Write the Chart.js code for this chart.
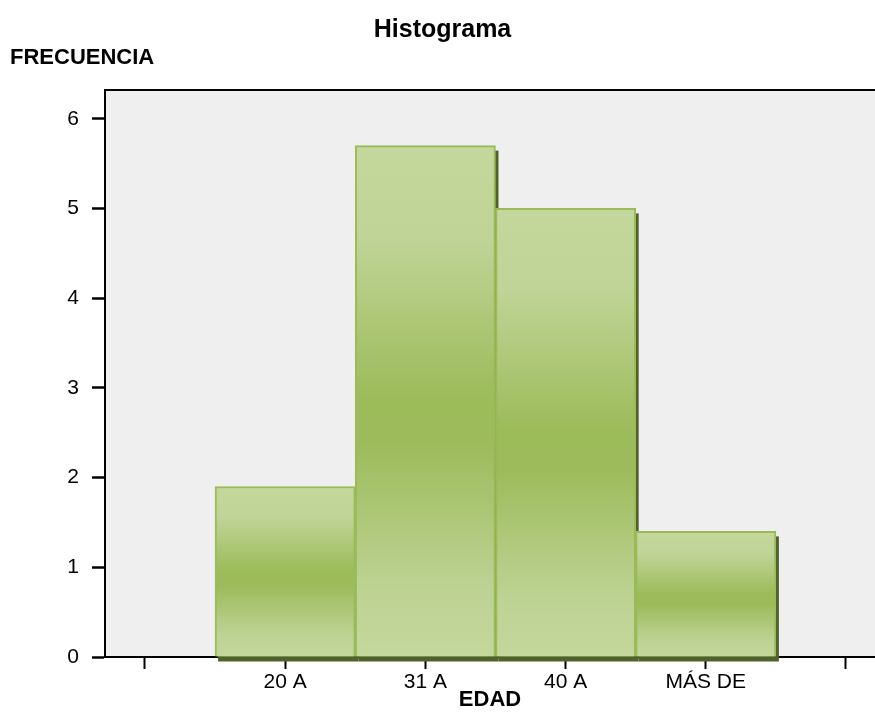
<!DOCTYPE html>
<html>
<head>
<meta charset="utf-8">
<script src="https://cdn.jsdelivr.net/npm/chart.js@4/dist/chart.umd.min.js"></script>
<style>
  html, body { margin: 0; padding: 0; background: #fff; }
  #wrap { width: 875px; height: 720px; }
</style>
</head>
<body>
<div id="wrap"><canvas id="canvas_hist"></canvas></div>
<script>
// data
const categories = ['20 A', '31 A', '40 A', 'MÁS DE'];
const frecuencia = [1.9, 5.7, 5.0, 1.4];
const xTickPos = [0, 1, 2, 3, 4, 5];
const xTickLabels = ['', '20 A', '31 A', '40 A', 'MÁS DE', ''];
const yTicks = [0, 1, 2, 3, 4, 5, 6];

const FONT = "'Liberation Sans', Arial, sans-serif";

// plot background + top frame line
const plotBg = {
  id: 'plotBg',
  beforeDraw(chart) {
    const { ctx, chartArea: a } = chart;
    ctx.save();
    ctx.fillStyle = '#efefef';
    ctx.fillRect(a.left, a.top, a.right - a.left, a.bottom - a.top);
    ctx.strokeStyle = '#000';
    ctx.lineWidth = 2;
    ctx.beginPath();
    ctx.moveTo(a.left, a.top);
    ctx.lineTo(a.right, a.top);
    ctx.stroke();
    ctx.restore();
  }
};

// dark drop shadow behind every bar
const barShadow = {
  id: 'barShadow',
  beforeDatasetsDraw(chart) {
    const ctx = chart.ctx;
    const meta = chart.getDatasetMeta(0);
    ctx.save();
    ctx.fillStyle = '#4f6228';
    meta.data.forEach(bar => {
      const p = bar.getProps(['x', 'y', 'base', 'width'], true);
      ctx.fillRect(p.x - p.width / 2 + 3, p.y + 5, p.width, p.base - p.y);
    });
    ctx.restore();
  }
};

function barGradient(c) {
  const chart = c.chart;
  if (!chart.chartArea || !c.parsed) return '#b5cf85';
  const ys = chart.scales.y;
  const top = ys.getPixelForValue(c.parsed.y);
  const bottom = ys.getPixelForValue(0);
  const g = chart.ctx.createLinearGradient(0, top, 0, bottom);
  g.addColorStop(0, '#c4d79c');
  g.addColorStop(0.18, '#bfd496');
  g.addColorStop(0.5, '#9cbb59');
  g.addColorStop(0.58, '#9dbb5b');
  g.addColorStop(0.86, '#bcd292');
  g.addColorStop(1, '#c4d79c');
  return g;
}

const data_hist = {
  datasets: [{
    data: categories.map((c, i) => ({ x: i + 1, y: frecuencia[i] })),
    backgroundColor: barGradient,
    borderColor: '#9bbb59',
    borderWidth: 2,
    barPercentage: 1,
    categoryPercentage: 1,
  }]
};

const config_hist = {
  type: 'bar',
  data: data_hist,
  plugins: [plotBg, barShadow],
  options: {
    responsive: true,
    maintainAspectRatio: false,
    animation: false,
    layout: { padding: { left: 10, right: 0, top: 0, bottom: 0 } },
    plugins: {
      legend: { display: false },
      tooltip: { enabled: false },
      title: {
        display: true,
        text: 'Histograma',
        color: '#000',
        font: { family: FONT, size: 25, weight: 'bold', lineHeight: 1.2 },
        padding: { top: 15, bottom: 0 }
      },
      subtitle: {
        display: true,
        text: 'FRECUENCIA',
        align: 'start',
        color: '#000',
        font: { family: FONT, size: 22, weight: 'bold', lineHeight: 1.2 },
        padding: { top: 0, bottom: 18.6 }
      }
    },
    scales: {
      x: {
        type: 'linear',
        min: -0.285,
        max: 5.207,
        offset: false,
        grid: { display: true, drawOnChartArea: false, offset: false, color: '#000', tickLength: 12, tickWidth: 2 },
        border: { display: true, color: '#000', width: 2 },
        afterBuildTicks: s => { s.ticks = xTickPos.map(v => ({ value: v })); },
        afterFit: s => { s.height = 63; },
        ticks: {
          autoSkip: false,
          maxRotation: 0,
          padding: 1,
          color: '#000',
          font: { family: FONT, size: 21 },
          callback: (v, i) => xTickLabels[i]
        },
        title: {
          display: true,
          text: 'EDAD',
          color: '#000',
          font: { family: FONT, size: 22, weight: 'bold', lineHeight: 1.2 },
          padding: { top: 0, bottom: 7 }
        }
      },
      y: {
        min: 0,
        max: 6.32,
        grid: { display: true, drawOnChartArea: false, color: '#000', tickLength: 13, tickWidth: 2.5 },
        border: { display: true, color: '#000', width: 2 },
        afterBuildTicks: s => { s.ticks = yTicks.map(v => ({ value: v })); },
        afterFit: s => { s.width = 95; },
        ticks: {
          padding: 13,
          color: '#000',
          font: { family: FONT, size: 21 }
        }
      }
    }
  }
};

const canvas_hist = document.getElementById('canvas_hist');
const chart_hist = new Chart(canvas_hist, config_hist);
</script>
</body>
</html>
